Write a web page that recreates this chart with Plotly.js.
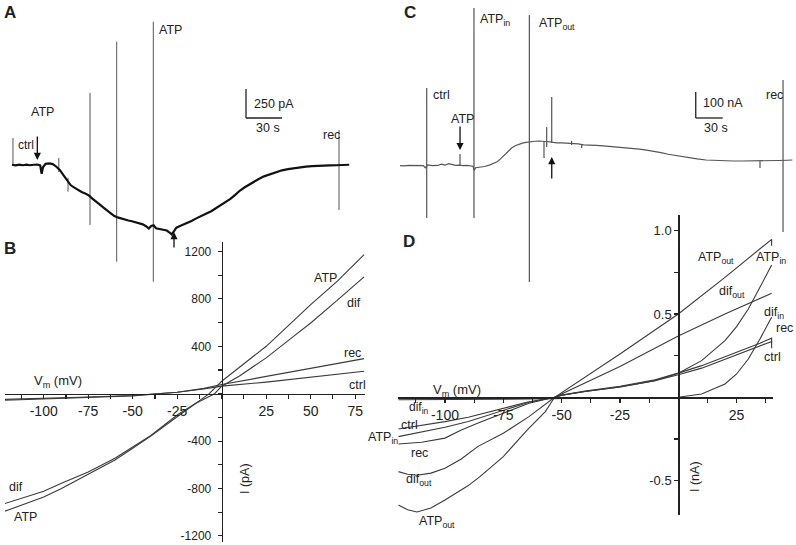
<!DOCTYPE html>
<html><head><meta charset="utf-8">
<script src="https://cdn.plot.ly/plotly-3.0.1.min.js"></script>
<style>html,body{margin:0;padding:0;background:#fff;}#chart{width:796px;height:545px;}</style>
</head><body><div id="chart"></div>
<script>
// ---------- Panel A: whole-cell current trace (time in s, current in pA) ----------
const tA = [0,3,6,9,12,15,18,21,23.5,24.7,25.8,28,31,34,37,40,43,46,49,52,55,58,61,64,67,70,73,76,79,82,85,88,91,94,97,100,103,106,109,112,114,116,118,120,123,126,129,131,133,135,137,140,143,146,150,154,158,162,166,170,174,178,182,186,190,194,198,202,206,210,215,220,225,230,235,240,245,250,255,260,265,270,275,281];
const iA = [2,-3,3,-2,3,-2,2,4,-3,-75,-20,10,14,8,-15,-45,-90,-135,-175,-195,-215,-232,-245,-262,-290,-312,-340,-365,-392,-415,-438,-452,-462,-470,-478,-485,-494,-500,-512,-530,-548,-525,-520,-545,-552,-560,-565,-580,-598,-570,-540,-525,-512,-500,-480,-458,-435,-418,-398,-372,-350,-320,-292,-258,-220,-192,-165,-140,-118,-98,-80,-60,-46,-35,-26,-20,-14,-10,-6,-5,-3,-2,0,2];
const spikeA_t   = [0.8, 39, 46.7, 65, 87.25, 117.75, 272.5];
const spikeA_top = [233, 60, -110, 621, 1063, 1235, 302];
const spikeA_bot = [0, -60, -230, -517, -834, -1006, -388];

// ---------- Panel C: oocyte current trace (time in s, current in nA) ----------
const tC = [0,4,10,16,22,26,28,31,36,42,46,50,54,58,62,66,70,74,78,81,82.5,84,88,94,100,104,108,112,116,120,124,128,132,136,140,143,146,150,154,158,162,166,170,174,180,186,192,198,204,210,218,226,234,242,250,258,266,274,282,290,298,306,314,322,330,340,350,360,370,380,390,400,410,420,430,436];
const iC = [0,-1,1,0,-1,0,-8,3,0,1,6,2,8,3,1,2,0,1,0,-2,-18,-8,-6,-3,3,8,15,27,40,55,68,77,83,87,90,92,92,94,95,95,93,92,90,88,88,87,86,84,80,80,78,76,74,72,70,67,64,60,56,50,44,39,34,30,26,22,20,19,18,18,18,18,19,20,21,22];
const spikeC_t   = [29.7, 66.7, 82.2, 143.7, 160, 163, 168.6, 190.7, 201.9, 400, 425.6];
const spikeC_top = [299, 45, 607, 580, 95, 149, 264, 95, 80, 18, 330];
const spikeC_bot = [-201, 0, -201, -447, 30, 72, 87, 80, 68, -9, -255];

// ---------- Panel B: I-V curves (mV, pA) ----------
const vB_ATP = [-122,-110,-100,-90,-75,-60,-50,-40,-25,-15,-7,0,10,25,40,50,65,80];
const iB_ATP = [-993,-930,-872,-800,-681,-560,-460,-360,-195,-90,0,105,220,400,610,752,950,1174];
const vB_dif = [-122,-110,-100,-90,-75,-60,-50,-40,-25,-15,-4,0,10,25,40,50,65,80];
const iB_dif = [-928,-870,-824,-755,-661,-545,-450,-355,-180,-85,0,63,150,302,480,597,790,986];
const vB_rec = [-122,-100,-75,-50,-25,-10,0,25,50,80];
const iB_rec = [-55,-45,-33,-18,12,45,77,147,218,296];
const vB_ctrl = [-122,-100,-75,-50,-25,-10,0,25,50,80];
const iB_ctrl = [-48,-40,-28,-15,12,40,64,98,142,189];

// ---------- Panel D: I-V curves (mV, nA) ----------
const vD_ctrl = [-120,-110,-100,-90,-75,-65,-53,-50,-40,-25,-10,0,10,25,35,40,40];
const iD_ctrl = [-0.19,-0.17,-0.146,-0.12,-0.066,-0.03,0,0.012,0.035,0.062,0.1,0.135,0.175,0.255,0.31,0.335,0.295];
const vD_rec = [-120,-110,-100,-93,-85,-75,-64,-53,-50,-40,-25,-10,0,10,25,35,40,40];
const iD_rec = [-0.28,-0.27,-0.245,-0.196,-0.15,-0.096,-0.036,0,0.013,0.037,0.066,0.105,0.145,0.19,0.27,0.325,0.355,0.325];
const vD_ATPin = [-120,-110,-100,-90,-75,-64,-53,-50,-40,-25,-10,0,10,20,25,30,35,40];
const iD_ATPin = [-0.236,-0.21,-0.18,-0.145,-0.08,-0.03,0,0.012,0.035,0.062,0.1,0.144,0.22,0.34,0.424,0.53,0.66,0.794];
const vD_difin = [-120,-100,-75,-55,-25,0,10,20,25,30,35,40];
const iD_difin = [-0.015,-0.015,-0.012,-0.008,-0.004,0,0.02,0.08,0.14,0.23,0.35,0.48];
const vD_ATPout = [-120,-116,-112,-106,-100,-90,-85,-75,-65,-57,-53,-40,-25,0,20,40,40];
const iD_ATPout = [-0.646,-0.675,-0.688,-0.665,-0.616,-0.53,-0.476,-0.356,-0.2,-0.086,0,0.12,0.26,0.5,0.72,0.948,0.91];
const vD_difout = [-120,-116,-112,-106,-100,-93,-86,-75,-64,-53,-25,0,20,40];
const iD_difout = [-0.446,-0.462,-0.468,-0.455,-0.426,-0.37,-0.296,-0.216,-0.116,0,0.185,0.368,0.5,0.624];

// ---------- tick labels ----------
const bXLabelVals = [-100,-75,-50,-25,25,50,75];
const bXLabels = ['-100','-75','-50','-25','25','50','75'];
const bYLabelVals = [-1200,-800,-400,400,800,1200];
const bYLabels = ['-1200','-800','-400','400','800','1200'];
const dXLabelVals = [-100,-75,-50,-25,25];
const dXLabels = ['-100','-75','-50','-25','25'];
const dYLabelVals = [-0.5,0.5,1.0];
const dYLabels = ['-0.5','0.5','1.0'];

// scale bars
const scaleA = {t:30, i:250}, scaleC = {t:30, i:100};

// ---------- helpers ----------
const W = 796, H = 545;
const FONT = 'Liberation Sans, Arial, sans-serif';
function segs(ts, tops, bots){ const x=[],y=[]; ts.forEach((t,k)=>{x.push(t,t,null);y.push(tops[k],bots[k],null);}); return {x,y}; }
function ticks(start, stop, step, labelVals, labels){
  const vals=[], txt=[];
  for(let v=start; v<=stop+1e-9; v+=step){ const r=Math.round(v*1000)/1000; vals.push(r); const k=labelVals.findIndex(l=>Math.abs(l-r)<1e-9); txt.push(k>=0?labels[k]:''); }
  return {vals, txt};
}
function ivAxis(domain, range, pos, tk, size, side, standoff){
  const ax = {domain, range, anchor:'free', position:pos, side, showline:true, linecolor:'#222', linewidth:1.4,
    ticks:'outside', ticklen:4, tickwidth:1.1, tickcolor:'#222', tickmode:'array', tickvals:tk.vals, ticktext:tk.txt,
    tickfont:{family:FONT, size, color:'#222'}, showgrid:false, zeroline:false, fixedrange:true};
  if (standoff) ax.ticklabelstandoff = standoff;
  return ax;
}
function hidden(domain, range){ return {domain, range, visible:false, showgrid:false, zeroline:false, fixedrange:true}; }
function lab(text, px, py, size, extra){
  return Object.assign({text, x:px/W, y:1-py/H, xref:'paper', yref:'paper', xanchor:'left', yanchor:'middle',
    showarrow:false, font:{family:FONT, size:size||12.5, color:'#222'}}, extra||{});
}
function arrow(xr, yr, x, y, ay){
  return {xref:xr, yref:yr, x, y, ax:0, ay, text:'', showarrow:true, arrowhead:2, arrowsize:1.1, arrowwidth:1.3, arrowcolor:'#111', standoff:0};
}
function iv(x, y, xa, ya){ return {x, y, xaxis:xa, yaxis:ya, mode:'lines', line:{color:'#3a3a3a', width:1.1}, hoverinfo:'skip'}; }

const sA = segs(spikeA_t, spikeA_top, spikeA_bot);
const sC = segs(spikeC_t, spikeC_top, spikeC_bot);

const data = [
  {x:sA.x, y:sA.y, xaxis:'x3', yaxis:'y3', mode:'lines', line:{color:'#555', width:1}, hoverinfo:'skip'},
  {x:tA, y:iA, xaxis:'x3', yaxis:'y3', mode:'lines', line:{color:'#111', width:2.2}, hoverinfo:'skip'},
  {x:sC.x, y:sC.y, xaxis:'x4', yaxis:'y4', mode:'lines', line:{color:'#444', width:1.1}, hoverinfo:'skip'},
  {x:tC, y:iC, xaxis:'x4', yaxis:'y4', mode:'lines', line:{color:'#555', width:1.2}, hoverinfo:'skip'},
  iv(vB_ATP, iB_ATP, 'x', 'y'), iv(vB_dif, iB_dif, 'x', 'y'), iv(vB_rec, iB_rec, 'x', 'y'), iv(vB_ctrl, iB_ctrl, 'x', 'y'),
  iv(vD_ctrl, iD_ctrl, 'x2', 'y2'), iv(vD_rec, iD_rec, 'x2', 'y2'), iv(vD_ATPin, iD_ATPin, 'x2', 'y2'),
  iv(vD_difin, iD_difin, 'x2', 'y2'), iv(vD_ATPout, iD_ATPout, 'x2', 'y2'), iv(vD_difout, iD_difout, 'x2', 'y2')
];

const sbA = {t0:195, i0:405}, sbC = {t0:328.6, i0:183.5};
const layout = {
  width:W, height:H, margin:{l:0,r:0,t:0,b:0}, showlegend:false,
  paper_bgcolor:'#fff', plot_bgcolor:'rgba(0,0,0,0)', font:{family:FONT, color:'#222'},
  xaxis:  ivAxis([5/W, 365/W], [-121.74, 80.51], 1-393.7/H, ticks(-112.5, 75, 12.5, bXLabelVals, bXLabels), 14, 'bottom'),
  yaxis:  ivAxis([1-541.7/H, 1-241.7/H], [-1249, 1282.7], 221.7/W, ticks(-1200, 1200, 200, bYLabelVals, bYLabels), 12, 'left', 4),
  xaxis2: ivAxis([398.3/W, 773.3/W], [-120.0, 40.72], 1-397.3/H, ticks(-112.5, 37.5, 12.5, dXLabelVals, dXLabels), 14, 'bottom'),
  yaxis2: ivAxis([1-515/H, 1-215/H], [-0.7065, 1.0942], 678.3/W, ticks(-0.5, 1.0, 0.25, dYLabelVals, dYLabels), 13, 'left'),
  xaxis3: hidden([0, 400/W], [-10, 323.33]),
  yaxis3: hidden([1-290/H, 1], [-1077.6, 1422.4]),
  xaxis4: hidden([400/W, 1], [0, 440]),
  yaxis4: hidden([1-290/H, 1], [-478.1, 637.3]),
  shapes: [
    {type:'line', xref:'x3', yref:'y3', x0:sbA.t0, x1:sbA.t0, y0:sbA.i0, y1:sbA.i0+scaleA.i, line:{color:'#222', width:1.3}},
    {type:'line', xref:'x3', yref:'y3', x0:sbA.t0, x1:sbA.t0+scaleA.t, y0:sbA.i0, y1:sbA.i0, line:{color:'#222', width:1.3}},
    {type:'line', xref:'x4', yref:'y4', x0:sbC.t0, x1:sbC.t0, y0:sbC.i0, y1:sbC.i0+scaleC.i, line:{color:'#222', width:1.3}},
    {type:'line', xref:'x4', yref:'y4', x0:sbC.t0, x1:sbC.t0+scaleC.t, y0:sbC.i0, y1:sbC.i0, line:{color:'#222', width:1.3}}
  ],
  annotations: [
    // panel letters
    lab('<b>A</b>', 2, 13, 17), lab('<b>B</b>', 2, 249, 17), lab('<b>C</b>', 402, 13, 17), lab('<b>D</b>', 401, 241.5, 17),
    // A
    lab('ATP', 29, 112.5), lab('ctrl', 15.5, 145, 12), lab('ATP', 157, 29.5), lab('250 pA', 252, 104), lab('30 s', 254, 127.5), lab('rec', 321, 135),
    arrow('x3','y3', 21.1, 43, -25), arrow('x3','y3', 135, -578, 17),
    // C
    lab('ctrl', 431, 95), lab('ATP', 449, 119), lab('ATP<sub>in</sub>', 478, 20), lab('ATP<sub>out</sub>', 537, 24),
    lab('100 nA', 701, 103), lab('30 s', 702, 128), lab('rec', 764, 95),
    arrow('x4','y4', 66.7, 60, -25), arrow('x4','y4', 168.6, 33.5, 23),
    // B
    lab('ATP', 311.7, 278.3), lab('dif', 344.7, 303.3), lab('rec', 342, 353), lab('ctrl', 347, 385),
    lab('dif', 7, 486.7), lab('ATP', 12, 516.7), lab('V<sub>m</sub> (mV)', 32, 381.7, 13),
    lab('I (pA)', 245, 478, 12.5, {xanchor:'center', textangle:-90}),
    // D
    lab('ATP<sub>out</sub>', 696, 258), lab('ATP<sub>in</sub>', 754, 258), lab('dif<sub>out</sub>', 717, 291.7),
    lab('dif<sub>in</sub>', 762, 313), lab('rec', 774, 328), lab('ctrl', 762, 357),
    lab('dif<sub>in</sub>', 407, 408, 12), lab('ctrl', 399, 425), lab('ATP<sub>in</sub>', 366, 438), lab('rec', 409, 453),
    lab('dif<sub>out</sub>', 404, 480), lab('ATP<sub>out</sub>', 417, 521.7), lab('V<sub>m</sub> (mV)', 431, 390, 13),
    lab('I (nA)', 695, 477, 12.5, {xanchor:'center', textangle:-90})
  ]
};
Plotly.newPlot('chart', data, layout, {displayModeBar:false, staticPlot:true});
</script></body></html>
